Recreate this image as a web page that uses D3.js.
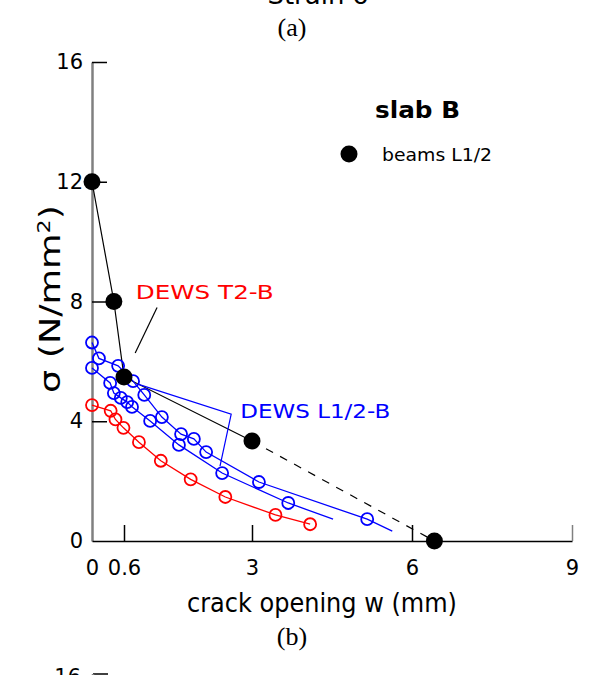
<!DOCTYPE html>
<html>
<head>
<meta charset="utf-8">
<script src="https://cdn.jsdelivr.net/npm/d3@7"></script>
<style>
  body { margin: 0; background: #fff; }
  text { font-family: "DejaVu Sans", sans-serif; }
</style>
</head>
<body>
<div id="chart"></div>
<script>
// data: crack opening w (mm), stress (N/mm2)
var beamsW = [0, 0.41, 0.6, 3, 6.42];
var beamsS = [12, 8, 5.48, 3.34, 0];

var t2W = [0, 0.35, 0.44, 0.59, 0.88, 1.29, 1.85, 2.50, 3.44, 4.09];
var t2S = [4.54, 4.35, 4.06, 3.78, 3.30, 2.68, 2.06, 1.47, 0.87, 0.56];

var l1aW = [0, 0.13, 0.49, 0.77, 0.98, 1.31, 1.67, 1.91, 2.14, 3.13, 5.16];
var l1aS = [6.63, 6.10, 5.85, 5.34, 4.88, 4.14, 3.57, 3.41, 2.97, 1.97, 0.73];
var l1aEnd = [5.63, 0.33];

var l1bW = [0, 0.34, 0.41, 0.54, 0.66, 0.75, 1.09, 1.63, 2.44, 3.68];
var l1bS = [5.78, 5.28, 4.94, 4.78, 4.64, 4.48, 4.01, 3.21, 2.27, 1.27];
var l1bEnd = [4.52, 0.73];

var xTicks = [0, 0.6, 3, 6, 9];
var yTicks = [0, 4, 8, 12, 16];

var W = 593, H = 675;
var svg = d3.select('#chart').append('svg').attr('width', W).attr('height', H);

var x = d3.scaleLinear().domain([0, 9]).range([92, 572]);
var y = d3.scaleLinear().domain([0, 16]).range([541, 62]);

function pts(ws, ss) { return ws.map(function(w, i) { return [w, ss[i]]; }); }
var line = d3.line().x(function(d) { return x(d[0]); }).y(function(d) { return y(d[1]); });

// stretch a label to the width it has in the picture
function fit(sel, len) { return sel.attr('textLength', len).attr('lengthAdjust', 'spacingAndGlyphs'); }

// captions from the surrounding figure
svg.append('text').attr('x', 318).attr('y', 4).attr('text-anchor', 'middle')
  .style('font-size', '26px').text('Strain δ');
svg.append('text').attr('x', 292).attr('y', 36).attr('text-anchor', 'middle')
  .style('font-family', '"Liberation Serif", serif').style('font-size', '26px').text('(a)');
svg.append('text').attr('x', 292).attr('y', 645).attr('text-anchor', 'middle')
  .style('font-family', '"Liberation Serif", serif').style('font-size', '26px').text('(b)');

// axes
var yAxis = d3.axisLeft(y).tickValues(yTicks).tickSize(-15).tickSizeOuter(0).tickPadding(9);
var gy = svg.append('g').attr('transform', 'translate(' + x(0) + ',0)').call(yAxis);
gy.select('.domain').attr('stroke', '#808080').attr('stroke-width', 2.5);
gy.selectAll('.tick line').attr('stroke', '#000').attr('stroke-width', 1.5);
gy.selectAll('.tick').filter(function(d) { return d === 0; }).select('line').remove();
gy.selectAll('text').style('font-size', '21px').attr('fill', '#000');

var xAxis = d3.axisBottom(x).tickValues(xTicks).tickSize(-16).tickSizeOuter(0).tickPadding(19)
  .tickFormat(function(d) { return d; });
var gx = svg.append('g').attr('transform', 'translate(0,' + y(0) + ')').call(xAxis);
gx.select('.domain').attr('stroke', '#000').attr('stroke-width', 1.5);
gx.selectAll('.tick line').attr('stroke', '#000').attr('stroke-width', 1.5);
gx.selectAll('.tick').filter(function(d) { return d === 0; }).select('line').remove();
gx.selectAll('.tick').filter(function(d) { return d === 9; }).select('line').attr('stroke', '#808080');
gx.selectAll('text').style('font-size', '21px').attr('fill', '#000');

// axis titles
fit(svg.append('text').attr('x', 322).attr('y', 612).attr('text-anchor', 'middle')
  .style('font-size', '26px').text('crack opening w (mm)'), 270);
var yt = svg.append('text').attr('transform', 'translate(60,299) rotate(-90)')
  .attr('text-anchor', 'middle').style('font-size', '28px');
yt.append('tspan').text('σ (N/mm');
yt.append('tspan').attr('dy', -10).style('font-size', '17px').text('2');
yt.append('tspan').attr('dy', 10).text(')');
fit(yt, 188);

// beams L1/2: solid then dashed to the last point
var bp = pts(beamsW, beamsS);
svg.append('path').attr('d', line(bp.slice(0, 4))).attr('fill', 'none').attr('stroke', '#000').attr('stroke-width', 1.2);
svg.append('path').attr('d', line(bp.slice(3))).attr('fill', 'none').attr('stroke', '#000')
  .attr('stroke-width', 1.2).attr('stroke-dasharray', '8,8');

// test curves
function curve(ws, ss, end, color) {
  var p = pts(ws, ss);
  var lp = end ? p.concat([end]) : p;
  svg.append('path').attr('d', line(lp)).attr('fill', 'none').attr('stroke', color).attr('stroke-width', 1.3);
  svg.append('g').selectAll('circle').data(p).enter().append('circle')
    .attr('cx', function(d) { return x(d[0]); })
    .attr('cy', function(d) { return y(d[1]); })
    .attr('r', 6).attr('fill', 'none').attr('stroke', color).attr('stroke-width', 1.8);
}
curve(l1bW, l1bS, l1bEnd, '#0000ff');
curve(l1aW, l1aS, l1aEnd, '#0000ff');
curve(t2W, t2S, null, '#ff0000');

svg.append('g').selectAll('circle').data(bp).enter().append('circle')
  .attr('cx', function(d) { return x(d[0]); })
  .attr('cy', function(d) { return y(d[1]); })
  .attr('r', 8.5).attr('fill', '#000');

// annotations
fit(svg.append('text').attr('x', x(0.82)).attr('y', y(8.08)).attr('fill', '#ff0000')
  .style('font-size', '20px').text('DEWS T2-B'), 138);
svg.append('path').attr('d', line([[1.22, 7.8], [0.81, 6.28]])).attr('fill', 'none').attr('stroke', '#000').attr('stroke-width', 1.2);

fit(svg.append('text').attr('x', x(2.78)).attr('y', y(4.1)).attr('fill', '#0000ff')
  .style('font-size', '20px').text('DEWS L1/2-B'), 150);
svg.append('path').attr('d', line([[0.86, 5.24], [2.61, 4.24], [2.40, 2.50]]))
  .attr('fill', 'none').attr('stroke', '#0000ff').attr('stroke-width', 1.2);

// legend
fit(svg.append('text').attr('x', 375).attr('y', 118).style('font-size', '23px').style('font-weight', 'bold')
  .text('slab B'), 85);
svg.append('circle').attr('cx', 349).attr('cy', 154).attr('r', 8.5).attr('fill', '#000');
fit(svg.append('text').attr('x', 382).attr('y', 161).style('font-size', '18px').text('beams L1/2'), 110);

// top of the next panel
svg.append('text').attr('x', 81).attr('y', 684).attr('text-anchor', 'end').style('font-size', '21px').text('16');
svg.append('line').attr('x1', 93).attr('x2', 108).attr('y1', 674).attr('y2', 674).attr('stroke', '#000').attr('stroke-width', 1.5);
svg.append('line').attr('x1', 93).attr('x2', 93).attr('y1', 674).attr('y2', 675).attr('stroke', '#808080').attr('stroke-width', 2.5);
</script>
</body>
</html>
